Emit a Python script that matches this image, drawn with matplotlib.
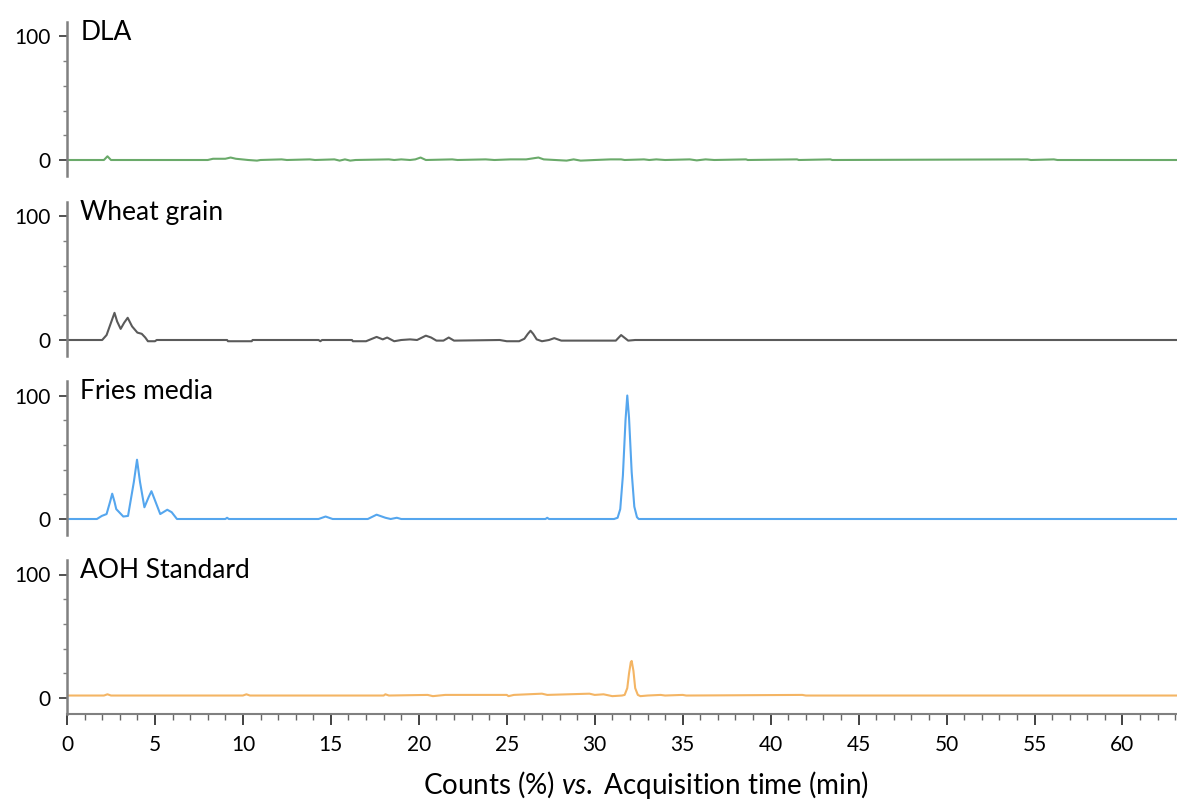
import matplotlib
matplotlib.use("Agg")
import matplotlib.pyplot as plt
from matplotlib.ticker import MultipleLocator

plt.rcParams['font.family'] = ['Lato', 'DejaVu Sans']
plt.rcParams['mathtext.fontset'] = 'custom'
plt.rcParams['mathtext.rm'] = 'Lato'
plt.rcParams['mathtext.it'] = 'Lato:italic'

# Chromatogram traces: time (min), counts (%)
dla_t = [0, 2.1, 2.3, 2.5, 8.0, 8.3, 9.0, 9.3, 9.6, 10.3, 10.8, 11.0, 12.2, 12.5, 13.8, 14.1,
         15.2, 15.5, 15.8, 16.1, 16.4, 18.3, 18.6, 19.0, 19.5, 19.8, 20.1, 20.4, 21.9, 22.2,
         23.8, 24.3, 25.2, 25.8, 26.1, 26.8, 27.1, 28.4, 28.8, 29.2, 30.0, 30.9, 31.5, 31.7,
         32.8, 33.1, 33.5, 34.0, 35.4, 35.8, 36.3, 36.8, 38.6, 38.7, 41.5, 41.6, 43.4, 43.5,
         54.6, 54.8, 56.1, 56.3, 63.1]
dla_y = [0, 0, 3, 0, 0, 1, 1, 2, 1, 0, -0.5, 0, 0.5, 0, 0.5, 0,
         0.5, -0.5, 0.5, -0.5, 0, 0.5, 0, 0.5, 0, 0.5, 2, 0, 0.5, 0,
         0.5, 0, 0.5, 0.5, 0.5, 2, 0.5, -0.5, 0.5, -0.5, 0, 0.5, 0.5, 0,
         0.5, 0, 0.5, 0, 0.5, -0.3, 0.5, 0, 0.5, 0, 0.5, 0, 0.5, 0,
         0.5, 0, 0.5, 0, 0]

wheat_t = [0, 2.0, 2.25, 2.5, 2.7, 2.85, 3.05, 3.25, 3.45, 3.7, 4.0, 4.25, 4.45, 4.6, 5.0, 5.1,
           9.1, 9.15, 10.5, 10.55, 14.3, 14.4, 14.5, 16.2, 16.25, 17.0, 17.6, 17.95, 18.2, 18.6,
           19.0, 19.5, 19.9, 20.4, 20.7, 21.0, 21.4, 21.7, 22.0, 24.6, 25.0, 25.7, 26.0, 26.2,
           26.35, 26.5, 26.7, 27.0, 27.4, 27.7, 28.1, 31.2, 31.5, 31.9, 32.3, 63.1]
wheat_y = [0, 0, 4, 14, 22, 15, 9, 14, 18, 11, 6, 5, 2, -1, -1, 0,
           0, -1, -1, 0, 0, -1, 0, 0, -1, -1, 2.5, 0.5, 2, -1,
           0, 0.5, 0, 3.5, 2, -0.5, -0.5, 2, -0.5, 0, -1, -1, 1, 5,
           7.5, 5, 0.5, -1, 0, 1.5, -0.5, -0.5, 4, -0.5, 0, 0]

fries_t = [0, 1.7, 1.98, 2.25, 2.45, 2.57, 2.7, 2.8, 3.2, 3.47, 3.8, 3.98, 4.15, 4.4, 4.65, 4.8,
           4.95, 5.3, 5.7, 5.95, 6.25, 9.0, 9.1, 9.2, 14.3, 14.7, 15.1, 17.1, 17.6, 18.1, 18.4,
           18.75, 19.0, 27.2, 27.3, 27.4, 31.1, 31.3, 31.45, 31.6, 31.75, 31.85, 31.95, 32.1,
           32.25, 32.4, 32.5, 63.1]
fries_y = [0, 0, 2.5, 4, 14, 20.5, 14, 8, 2, 2.5, 30, 48, 30, 9.5, 18, 22.5,
           17, 4, 7.5, 5.5, 0, 0, 1, 0, 0, 2, 0, 0, 3.5, 1, 0,
           1, 0, 0, 1, 0, 0, 1, 8, 35, 80, 100, 82, 38,
           10, 1.5, 0, 0]

aoh_t = [0, 2.1, 2.3, 2.5, 10.0, 10.2, 10.4, 18.0, 18.1, 18.3, 20.5, 20.8, 21.5, 25.0, 25.1,
         25.4, 27.0, 27.3, 29.7, 30.0, 30.5, 31.0, 31.55, 31.7, 31.85, 31.95, 32.05, 32.1,
         32.2, 32.3, 32.45, 32.6, 33.0, 33.75, 34.0, 35.0, 35.2, 41.8, 42.0, 63.1]
aoh_y = [2, 2, 3, 2, 2, 3, 2, 2, 3, 2, 2.5, 1.5, 2.5, 2.5, 1.5,
         2.5, 3.5, 2.5, 3.5, 2.5, 3, 1.5, 2, 2.5, 8, 20, 29, 30,
         22, 8, 2.5, 1.5, 2, 2.5, 2, 2.5, 2, 2.5, 2, 2]

names = ["DLA", "Wheat grain", "Fries media", "AOH Standard"]
traces = [(dla_t, dla_y), (wheat_t, wheat_y), (fries_t, fries_y), (aoh_t, aoh_y)]
colors = ["#6aaa6a", "#5a5a5a", "#55a6ee", "#f4b564"]

W, H = 1177, 801
x0_px = 67            # pixel column of t = 0
zero_px = [160, 340, 519, 698]   # pixel row of y = 0 for each panel
ppu = 1.235           # pixels per % unit
ylo, yhi = -13, 112
xmax = 63.1

fig = plt.figure(figsize=(W / 100, H / 100), dpi=100)

for i, (name, (t, y), c) in enumerate(zip(names, traces, colors)):
    bottom_px = zero_px[i] - ylo * ppu
    ax = fig.add_axes([x0_px / W, 1 - bottom_px / H, 1 - x0_px / W, (yhi - ylo) * ppu / H])
    ax.plot(t, y, color=c, lw=1.5)
    ax.set_xlim(0, xmax)
    ax.set_ylim(ylo, yhi)
    for s in ["top", "right"]:
        ax.spines[s].set_visible(False)
    ax.spines["left"].set_color("#808080")
    ax.spines["left"].set_linewidth(1.8)
    ax.set_yticks([0, 100])
    ax.yaxis.set_minor_locator(MultipleLocator(20))
    ax.tick_params(axis="y", which="major", length=6, width=1.2, color="#333333",
                   labelsize=15, pad=6)
    ax.tick_params(axis="y", which="minor", length=3, width=1, color="#808080")
    ax.text(0.75, 103, name, fontsize=19, va="center", ha="left")

    if i < 3:
        ax.spines["bottom"].set_visible(False)
        ax.tick_params(axis="x", which="both", bottom=False, labelbottom=False)
    else:
        ax.spines["bottom"].set_color("#808080")
        ax.spines["bottom"].set_linewidth(1.5)
        ax.xaxis.set_major_locator(MultipleLocator(5))
        ax.xaxis.set_minor_locator(MultipleLocator(1))
        ax.tick_params(axis="x", which="major", length=8, width=1.3, color="#333333",
                       labelsize=15, pad=7)
        ax.tick_params(axis="x", which="minor", length=4, width=1, color="#666666")

fig.text(646 / W, 1 - 785 / H, r"Counts (%) $\mathit{vs.}$ Acquisition time (min)",
         fontsize=20, ha="center", va="center")

fig.savefig("out.png", dpi=100)
